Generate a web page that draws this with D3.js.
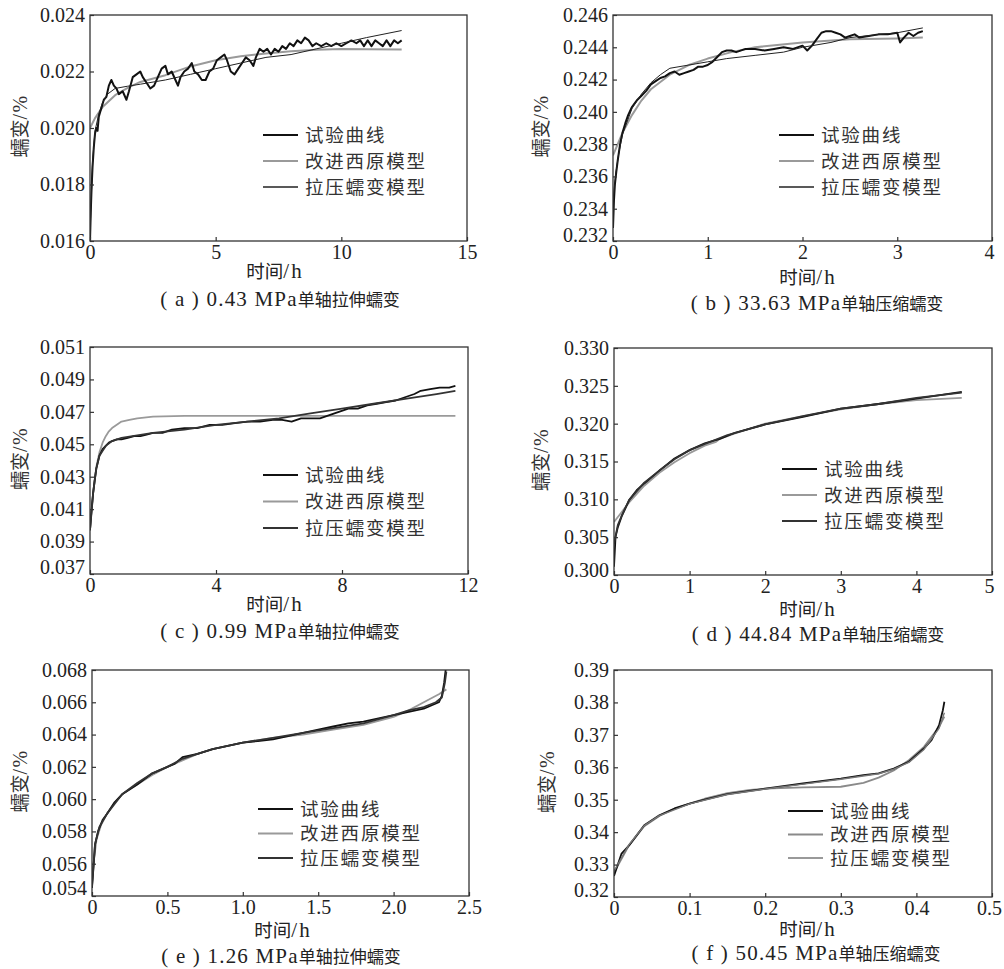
<!DOCTYPE html>
<html>
<head>
<meta charset="utf-8">
<script src="https://cdn.jsdelivr.net/npm/d3@7"></script>
<style>
body { margin: 0; background: #fff; }
</style>
</head>
<body>
<div id="chart"></div>
<script>
// ---- data (time h, strain %) ----
let seriesNames = ['试验曲线', '改进西原模型', '拉压蠕变模型']
let yLabel = ['蠕变', '/%']
let xLabel = ['时间', '/h']

let capA = ['( a ) 0.43 MPa', '单轴拉伸蠕变']
let capB = ['( b ) 33.63 MPa', '单轴压缩蠕变']
let capC = ['( c ) 0.99 MPa', '单轴拉伸蠕变']
let capD = ['( d ) 44.84 MPa', '单轴压缩蠕变']
let capE = ['( e ) 1.26 MPa', '单轴拉伸蠕变']
let capF = ['( f ) 50.45 MPa', '单轴压缩蠕变']

let xTicksA = [0, 5, 10, 15]
let yTicksA = [0.016, 0.018, 0.020, 0.022, 0.024]
let xTicksB = [0, 1, 2, 3, 4]
let yTicksB = [0.232, 0.234, 0.236, 0.238, 0.240, 0.242, 0.244, 0.246]
let xTicksC = [0, 4, 8, 12]
let yTicksC = [0.037, 0.039, 0.041, 0.043, 0.045, 0.047, 0.049, 0.051]
let xTicksD = [0, 1, 2, 3, 4, 5]
let yTicksD = [0.300, 0.305, 0.310, 0.315, 0.320, 0.325, 0.330]
let xTicksE = [0, 0.5, 1.0, 1.5, 2.0, 2.5]
let yTicksE = [0.054, 0.056, 0.058, 0.060, 0.062, 0.064, 0.066, 0.068]
let xTicksF = [0, 0.1, 0.2, 0.3, 0.4, 0.5]
let yTicksF = [0.32, 0.33, 0.34, 0.35, 0.36, 0.37, 0.38, 0.39]

let testA = [[0,0.0160],[0.03,0.0170],[0.06,0.0178],[0.1,0.0186],[0.15,0.0193],[0.2,0.0198],[0.25,0.0200],[0.3,0.0199],[0.35,0.0204],[0.45,0.0207],[0.55,0.0210],[0.65,0.0211],[0.75,0.0215],[0.85,0.0217],[0.95,0.0215],[1.05,0.0214],[1.15,0.0212],[1.3,0.0213],[1.45,0.0210],[1.55,0.0213],[1.7,0.0218],[1.85,0.0219],[2.0,0.0220],[2.1,0.0218],[2.25,0.0216],[2.4,0.0214],[2.55,0.0215],[2.7,0.0218],[2.85,0.0221],[3.0,0.0222],[3.1,0.0219],[3.25,0.0220],[3.4,0.0217],[3.5,0.0215],[3.6,0.0218],[3.75,0.0220],[3.9,0.0221],[4.05,0.0223],[4.15,0.0220],[4.3,0.0219],[4.45,0.0217],[4.6,0.0217],[4.75,0.0220],[4.9,0.0221],[5.05,0.0224],[5.2,0.0225],[5.35,0.0226],[5.45,0.0224],[5.6,0.0220],[5.75,0.0219],[5.9,0.0221],[6.05,0.0223],[6.2,0.0225],[6.35,0.0224],[6.5,0.0222],[6.6,0.0225],[6.75,0.0228],[6.9,0.0227],[7.05,0.0228],[7.2,0.0226],[7.35,0.0228],[7.5,0.0227],[7.65,0.0229],[7.8,0.0228],[7.95,0.0230],[8.1,0.0229],[8.25,0.0231],[8.4,0.0230],[8.55,0.0232],[8.7,0.0231],[8.85,0.0229],[9.0,0.0230],[9.2,0.0229],[9.4,0.0230],[9.6,0.0229],[9.8,0.0230],[10.0,0.0229],[10.2,0.0230],[10.4,0.0231],[10.6,0.0230],[10.75,0.0231],[10.9,0.0229],[11.05,0.0231],[11.2,0.0229],[11.35,0.0231],[11.5,0.0230],[11.65,0.0229],[11.8,0.0231],[11.95,0.0229],[12.1,0.0231],[12.25,0.0230],[12.4,0.0231]]
let nishA = [[0,0.0200],[0.2,0.02035],[0.5,0.02074],[1,0.02116],[1.5,0.02142],[2,0.02163],[3,0.02187],[4,0.02218],[5,0.0224],[6,0.02254],[7,0.02264],[8,0.02272],[9,0.02277],[10,0.0228],[11,0.02279],[12.4,0.02278]]
let tcA = [[0,0.0162],[0.1,0.0188],[0.2,0.0199],[0.35,0.0205],[0.5,0.0209],[0.7,0.0212],[1,0.0214],[1.5,0.02148],[2,0.02155],[3,0.0217],[4,0.0219],[5,0.0221],[6,0.0223],[7,0.0225],[8,0.0226],[9,0.0228],[10,0.0230],[11,0.0232],[12.4,0.02345]]

let testB = [[0,0.2328],[0.01,0.2345],[0.02,0.2355],[0.035,0.2363],[0.05,0.2370],[0.075,0.2380],[0.1,0.2387],[0.13,0.2393],[0.16,0.2398],[0.2,0.2403],[0.25,0.2407],[0.3,0.2410],[0.35,0.2413],[0.4,0.2417],[0.45,0.2419],[0.5,0.2421],[0.55,0.2422],[0.6,0.2424],[0.65,0.2425],[0.7,0.2423],[0.75,0.2424],[0.8,0.2425],[0.85,0.2426],[0.9,0.2428],[0.95,0.2428],[1.0,0.2429],[1.05,0.2431],[1.1,0.2434],[1.15,0.2437],[1.2,0.2438],[1.25,0.2438],[1.3,0.2437],[1.4,0.2439],[1.5,0.2439],[1.6,0.2438],[1.7,0.2439],[1.8,0.2440],[1.9,0.2439],[2.0,0.2441],[2.05,0.2438],[2.1,0.2441],[2.15,0.2445],[2.2,0.2449],[2.25,0.2450],[2.3,0.2450],[2.35,0.2449],[2.4,0.2448],[2.45,0.2446],[2.5,0.2447],[2.55,0.2448],[2.6,0.2446],[2.7,0.2447],[2.8,0.2448],[2.9,0.2448],[3.0,0.2449],[3.03,0.2443],[3.07,0.2446],[3.12,0.2449],[3.17,0.2447],[3.22,0.2449],[3.27,0.2450]]
let nishB = [[0,0.2373],[0.05,0.2380],[0.1,0.2387],[0.2,0.2398],[0.3,0.2407],[0.4,0.2414],[0.6,0.2423],[0.8,0.2429],[1.0,0.2433],[1.25,0.2437],[1.5,0.2440],[2.0,0.2443],[2.5,0.2445],[3.0,0.24455],[3.27,0.2446]]
let tcB = [[0,0.2345],[0.03,0.2362],[0.06,0.2374],[0.1,0.2386],[0.2,0.2402],[0.3,0.2411],[0.4,0.2418],[0.5,0.2423],[0.6,0.2427],[0.8,0.2429],[1.0,0.2431],[1.2,0.2433],[1.5,0.2435],[1.8,0.2437],[2.0,0.2440],[2.3,0.2443],[2.5,0.2446],[3.0,0.2449],[3.27,0.2452]]

let testC = [[0,0.0397],[0.03,0.0405],[0.06,0.0412],[0.1,0.0420],[0.15,0.0428],[0.2,0.0435],[0.3,0.0443],[0.4,0.0447],[0.5,0.0449],[0.6,0.0451],[0.7,0.0452],[0.85,0.0453],[1.0,0.0453],[1.2,0.0454],[1.4,0.0455],[1.6,0.0455],[1.8,0.0456],[2.0,0.0457],[2.3,0.0457],[2.6,0.0459],[3.0,0.0460],[3.4,0.0460],[3.8,0.0462],[4.2,0.0462],[4.6,0.0463],[5.0,0.0464],[5.4,0.0464],[5.8,0.0465],[6.1,0.0465],[6.4,0.0464],[6.7,0.0466],[7.0,0.0466],[7.3,0.0466],[7.6,0.0468],[7.9,0.0470],[8.2,0.0472],[8.5,0.0472],[8.8,0.0474],[9.1,0.0475],[9.4,0.0476],[9.7,0.0477],[10.0,0.0479],[10.3,0.0481],[10.5,0.0483],[10.8,0.0484],[11.1,0.0485],[11.4,0.0485],[11.6,0.0486]]
let nishC = [[0,0.0397],[0.1,0.0420],[0.2,0.0436],[0.3,0.0445],[0.4,0.0451],[0.5,0.0455],[0.6,0.0458],[0.7,0.0460],[0.85,0.0462],[1.0,0.0464],[1.25,0.0465],[1.5,0.0466],[2.0,0.0467],[3.0,0.04675],[11.6,0.04675]]
let tcC = [[0,0.0397],[0.1,0.0420],[0.2,0.0435],[0.3,0.0443],[0.5,0.0449],[0.7,0.0452],[1.0,0.0454],[2.0,0.0457],[3.0,0.0459],[4.0,0.0462],[5.0,0.0464],[6.0,0.0466],[7.0,0.0469],[8.0,0.0472],[9.0,0.0475],[10.0,0.0478],[11.0,0.0481],[11.6,0.0483]]

let testD = [[0,0.3011],[0.02,0.3050],[0.05,0.3063],[0.1,0.3077],[0.2,0.3099],[0.3,0.3112],[0.4,0.3121],[0.6,0.3138],[0.8,0.3154],[1.0,0.3165],[1.2,0.3174],[1.4,0.3180],[1.6,0.3188],[2.0,0.3199],[2.5,0.3209],[3.0,0.3220],[3.5,0.3226],[4.0,0.3233],[4.6,0.3242]]
let nishD = [[0,0.3070],[0.1,0.3083],[0.2,0.3096],[0.4,0.3118],[0.6,0.3135],[0.8,0.3149],[1.0,0.3161],[1.2,0.3171],[1.35,0.3176],[1.4,0.3180],[1.6,0.3187],[2.0,0.3200],[2.5,0.3210],[3.0,0.3219],[3.5,0.3226],[4.0,0.3231],[4.6,0.3234]]
let tcD = [[0,0.3041],[0.05,0.3066],[0.1,0.3078],[0.2,0.3099],[0.4,0.3122],[0.6,0.3138],[0.8,0.3153],[1.0,0.3165],[1.5,0.3185],[2.0,0.3199],[2.5,0.3210],[3.0,0.3220],[3.5,0.3226],[4.0,0.3234],[4.6,0.3241]]

let testE = [[0,0.0545],[0.01,0.0558],[0.02,0.0572],[0.04,0.0580],[0.07,0.0587],[0.1,0.0591],[0.15,0.0598],[0.2,0.0603],[0.3,0.0609],[0.4,0.0616],[0.5,0.0620],[0.55,0.0622],[0.6,0.0626],[0.7,0.0628],[0.8,0.0631],[0.9,0.0633],[1.0,0.0635],[1.1,0.0636],[1.2,0.0637],[1.3,0.0639],[1.4,0.0641],[1.5,0.0643],[1.6,0.0645],[1.7,0.0647],[1.8,0.0648],[1.9,0.0650],[2.0,0.0652],[2.1,0.0654],[2.2,0.0656],[2.25,0.0658],[2.3,0.0660],[2.32,0.0664],[2.335,0.0672],[2.345,0.0680]]
let nishE = [[0,0.0548],[0.01,0.0560],[0.03,0.0575],[0.06,0.0584],[0.1,0.0591],[0.15,0.0598],[0.2,0.0603],[0.3,0.0609],[0.4,0.0615],[0.5,0.0620],[0.6,0.0624],[0.7,0.0628],[0.8,0.0631],[1.0,0.0635],[1.2,0.0638],[1.4,0.0640],[1.6,0.0643],[1.8,0.0646],[2.0,0.0651],[2.1,0.0655],[2.2,0.0660],[2.3,0.0665],[2.35,0.0668]]
let tcE = [[0,0.0546],[0.01,0.0559],[0.02,0.0572],[0.05,0.0583],[0.1,0.0591],[0.2,0.0603],[0.3,0.0610],[0.4,0.0616],[0.5,0.0620],[0.6,0.0625],[0.7,0.0628],[0.8,0.0631],[1.0,0.0635],[1.2,0.0638],[1.4,0.0641],[1.6,0.0644],[1.8,0.0647],[2.0,0.0652],[2.1,0.0655],[2.2,0.0657],[2.28,0.0660],[2.32,0.0663],[2.34,0.0672],[2.35,0.0679]]

let testF = [[0,0.3265],[0.01,0.3334],[0.02,0.3359],[0.03,0.3390],[0.04,0.3421],[0.05,0.3437],[0.06,0.3452],[0.08,0.3473],[0.1,0.3488],[0.12,0.3500],[0.15,0.3517],[0.2,0.3534],[0.25,0.3550],[0.3,0.3565],[0.33,0.3576],[0.35,0.3581],[0.37,0.3596],[0.39,0.3617],[0.41,0.3658],[0.42,0.3684],[0.43,0.3730],[0.435,0.3776],[0.437,0.3802]]
let nishF = [[0,0.3275],[0.02,0.3360],[0.04,0.3418],[0.06,0.3450],[0.08,0.3472],[0.1,0.3488],[0.12,0.3503],[0.15,0.3520],[0.18,0.3530],[0.2,0.3534],[0.25,0.3538],[0.3,0.3540],[0.33,0.3552],[0.35,0.3568],[0.37,0.3590],[0.39,0.3622],[0.41,0.3663],[0.43,0.3725],[0.437,0.3756]]
let tcF = [[0,0.3280],[0.02,0.3362],[0.04,0.3420],[0.06,0.3451],[0.1,0.3487],[0.15,0.3516],[0.2,0.3533],[0.25,0.3548],[0.3,0.3563],[0.35,0.3580],[0.37,0.3594],[0.39,0.3615],[0.41,0.3655],[0.43,0.3720],[0.437,0.3768]]

// ---- layout ----
let width = 1004, height = 969
let serif = '"Liberation Serif", "Times New Roman", serif'
let cjk = '"Noto Sans CJK SC", "Noto Sans", sans-serif'

let svg = d3.select('#chart')
.append('svg')
.attr('width', width)
.attr('height', height)

let fmt3 = d3.format('.3f'), fmt2 = d3.format('.2f'), fmt1 = d3.format('.1f')

// styles for: test, nishihara, tension-compression
let styleThin = [{c: '#111', w: 2}, {c: '#9a9a9a', w: 2}, {c: '#222', w: 1}]
let styleMid = [{c: '#111', w: 1.8}, {c: '#9a9a9a', w: 1.8}, {c: '#333', w: 1.8}]
let styleF = [{c: '#111', w: 1.8}, {c: '#8a8a8a', w: 1.8}, {c: '#777', w: 1.4}]

let panels = [
	{box: [90, 467, 15, 241], xd: [0, 15], yd: [0.016, 0.024], xt: xTicksA, yt: yTicksA, xf: d => d, yf: fmt3,
	 lines: [testA, nishA, tcA], st: styleThin, leg: [263, 135, 26], cap: capA, capX: 280, capDy: 59, xlX: 275, xlDy: 31, ylX: 21, lowShift: 0},
	{box: [613, 992, 15, 241], xd: [0, 4], yd: [0.232, 0.246], xt: xTicksB, yt: yTicksB, xf: d => d, yf: fmt3,
	 lines: [testB, nishB, tcB], st: styleThin, leg: [779, 135, 26], cap: capB, capX: 817, capDy: 63, xlX: 808, xlDy: 37, ylX: 542, lowShift: 6},
	{box: [90, 468, 347, 574], xd: [0, 12], yd: [0.037, 0.051], xt: xTicksC, yt: yTicksC, xf: d => d, yf: fmt3,
	 lines: [testC, nishC, tcC], st: styleMid, leg: [263, 475, 26.5], cap: capC, capX: 280, capDy: 58, xlX: 275, xlDy: 31, ylX: 21, lowShift: 7},
	{box: [614, 992, 348, 575], xd: [0, 5], yd: [0.300, 0.330], xt: xTicksD, yt: yTicksD, xf: d => d, yf: fmt3,
	 lines: [testD, nishD, tcD], st: styleMid, leg: [782, 469, 26], cap: capD, capX: 818, capDy: 60, xlX: 808, xlDy: 35, ylX: 542, lowShift: 5},
	{box: [92, 469, 670, 896], xd: [0, 2.5], yd: [0.054, 0.068], xt: xTicksE, yt: yTicksE, xf: d => d == 0 ? '0' : fmt1(d), yf: fmt3,
	 lines: [testE, nishE, tcE], st: styleMid, leg: [258, 809, 24.5], cap: capE, capX: 281, capDy: 61, xlX: 283, xlDy: 35, ylX: 21, lowShift: 8},
	{box: [614, 992, 670, 897], xd: [0, 0.5], yd: [0.32, 0.39], xt: xTicksF, yt: yTicksF, xf: d => d == 0 ? '0' : fmt1(d), yf: fmt2,
	 lines: [testF, nishF, tcF], st: styleF, leg: [788, 811, 23.5], cap: capF, capX: 816, capDy: 57, xlX: 808, xlDy: 33, ylX: 548, lowShift: 7}
]

// draw order: nishihara, test, tension-compression
let order = [1, 0, 2]

panels.forEach((p, pi) => {
	let [x0, x1, y0, y1] = p.box
	let x = d3.scaleLinear().domain(p.xd).range([x0, x1])
	let y = d3.scaleLinear().domain(p.yd).range([y1, y0])

	let g = svg.append('g').attr('class', 'panel')

	g.append('clipPath').attr('id', 'clip' + pi)
	.append('rect').attr('x', x0).attr('y', y0 - 1).attr('width', x1 - x0).attr('height', y1 - y0 + 1)

	// curves
	let line = d3.line().x(d => x(d[0])).y(d => y(d[1]))
	order.forEach(k => {
		g.append('path')
		.attr('d', line(p.lines[k]))
		.attr('clip-path', `url(#clip${pi})`)
		.attr('fill', 'none')
		.attr('stroke', p.st[k].c)
		.attr('stroke-width', p.st[k].w)
		.attr('stroke-linejoin', 'round')
	})

	// axes, ticks pointing inwards
	let xAxis = d3.axisBottom(x).tickValues(p.xt).tickFormat(p.xf).tickSizeInner(-4).tickSizeOuter(0).tickPadding(4)
	let yAxis = d3.axisLeft(y).tickValues(p.yt).tickFormat(p.yf).tickSizeInner(-4).tickSizeOuter(0).tickPadding(5)

	let gx = g.append('g').attr('transform', `translate(0,${y1})`).call(xAxis)
	let gy = g.append('g').attr('transform', `translate(${x0},0)`).call(yAxis)

	;[gx, gy].forEach(a => {
		a.attr('font-family', serif).attr('font-size', 20)
		a.select('.domain').remove()
		a.selectAll('line').attr('stroke', '#333').attr('stroke-width', 1.2)
		a.selectAll('text')
		.style('font-family', serif)
		.style('font-size', '20px')
		.attr('fill', '#222')
	})
	gx.selectAll('text').attr('dy', '0.72em')
	// last x label of the right column sits at the page edge
	if (p.box[1] > 990) gx.selectAll('text').filter((d, i) => i == p.xt.length - 1).attr('dx', -3)
	gy.selectAll('text').attr('dy', (d, i) => i == 0 && p.lowShift ? (0.32 - p.lowShift / 20) + 'em' : '0.32em')

	// frame
	g.append('rect')
	.attr('x', x0).attr('y', y0)
	.attr('width', x1 - x0).attr('height', y1 - y0)
	.attr('fill', 'none')
	.attr('stroke', '#333')
	.attr('stroke-width', 1.3)

	// legend
	let [lx, ly, ldy] = p.leg
	seriesNames.forEach((name, k) => {
		let yy = ly + k * ldy
		g.append('line')
		.attr('x1', lx).attr('x2', lx + 35)
		.attr('y1', yy).attr('y2', yy)
		.attr('stroke', p.st[k].c)
		.attr('stroke-width', Math.max(p.st[k].w, 1.6))
		g.append('text')
		.attr('x', lx + 42).attr('y', yy)
		.attr('dy', '0.36em')
		.style('font-family', cjk)
		.style('font-size', '18.5px')
		.style('letter-spacing', '1.8px')
		.attr('fill', '#333')
		.text(name)
	})

	// x label
	let xl = g.append('text')
	.attr('x', p.xlX).attr('y', y1 + p.xlDy)
	.attr('dy', '0.36em')
	.attr('text-anchor', 'middle')
	.attr('fill', '#222')
	xl.append('tspan').style('font-family', cjk).style('font-size', '18.5px').text(xLabel[0])
	xl.append('tspan').style('font-family', serif).style('font-size', '21px').style('letter-spacing', '2px').text(xLabel[1])

	// y label
	let yl = g.append('text')
	.attr('transform', `translate(${p.ylX},${(y0 + y1) / 2 - 2}) rotate(-90)`)
	.attr('dy', '0.36em')
	.attr('text-anchor', 'middle')
	.attr('fill', '#333')
	yl.append('tspan').style('font-family', cjk).style('font-size', '19px').text(yLabel[0])
	yl.append('tspan').style('font-family', serif).style('font-size', '20px').style('letter-spacing', '1.5px').text(yLabel[1])

	// caption
	let cp = g.append('text')
	.attr('x', p.capX).attr('y', y1 + p.capDy)
	.attr('dy', '0.36em')
	.attr('text-anchor', 'middle')
	.attr('fill', '#222')
	cp.append('tspan').style('font-family', serif).style('font-size', '21px').style('letter-spacing', '1.2px').text(p.cap[0])
	cp.append('tspan').style('font-family', cjk).style('font-size', '17px').text(p.cap[1])
})
</script>
</body>
</html>
